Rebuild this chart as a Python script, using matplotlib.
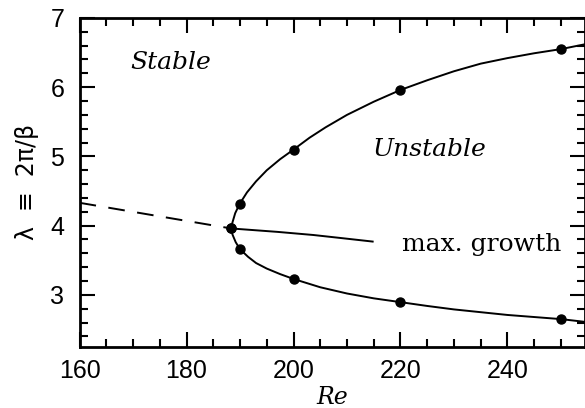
import matplotlib
matplotlib.use("Agg")
import matplotlib.pyplot as plt
from matplotlib.ticker import MultipleLocator

# points
re_pts = [188.3, 190, 200, 220, 250]
lam_upper_pts = [3.96, 4.31, 5.09, 5.96, 6.55]
lam_lower_pts = [3.96, 3.66, 3.23, 2.895, 2.65]

# the drawn neutral curve, read at many spots along it
re_upper = [188.3, 188.6, 189.1, 189.9, 191.3, 193, 195, 197.5, 199.85, 203, 206,
            210, 215, 220, 225, 230, 235, 240, 245, 250, 254.5]
lam_upper = [3.96, 4.05, 4.18, 4.31, 4.48, 4.64, 4.80, 4.96, 5.09, 5.27, 5.42,
             5.60, 5.79, 5.96, 6.10, 6.23, 6.34, 6.42, 6.49, 6.55, 6.62]
re_lower = [188.3, 188.6, 189.2, 190, 191.5, 193, 195, 197.5, 200, 205, 210,
            215, 220, 225, 230, 235, 240, 245, 250, 254.5]
lam_lower = [3.96, 3.87, 3.76, 3.66, 3.55, 3.46, 3.38, 3.30, 3.23, 3.11, 3.02,
             2.95, 2.895, 2.84, 2.79, 2.75, 2.71, 2.68, 2.65, 2.61]

# max. growth line, solid part and dashed extension
re_max = [188.3, 190, 197, 203.7, 209, 214.8]
lam_max = [3.96, 3.95, 3.91, 3.865, 3.82, 3.77]
re_dash = [160, 188.3]
lam_dash = [4.33, 3.96]

plt.rcParams['lines.scale_dashes'] = False

fig = plt.figure(figsize=(5.85, 4.08), dpi=100)
ax = fig.add_axes([0.136, 0.150, 0.864, 0.806])

ax.plot(re_upper, lam_upper, color='black', lw=1.4)
ax.plot(re_lower, lam_lower, color='black', lw=1.4)
ax.plot(re_max, lam_max, color='black', lw=1.4)
ax.plot(re_dash, lam_dash, color='black', lw=1.4, dashes=(12, 9))
ax.plot(re_pts, lam_upper_pts, 'o', color='black', ms=6.5)
ax.plot(re_pts, lam_lower_pts, 'o', color='black', ms=6.5)

ax.set_xlim(160, 254.5)
ax.set_ylim(2.25, 7)
ax.xaxis.set_major_locator(MultipleLocator(20))
ax.xaxis.set_minor_locator(MultipleLocator(5))
ax.yaxis.set_major_locator(MultipleLocator(1))
ax.yaxis.set_minor_locator(MultipleLocator(0.2))
ax.tick_params(which='both', direction='in', top=True, right=True, width=1.5)
ax.tick_params(which='major', length=11, labelsize=18)
ax.tick_params(which='minor', length=6)
ax.tick_params(axis='x', pad=9)
ax.tick_params(axis='y', pad=11)
for lab in ax.get_xticklabels() + ax.get_yticklabels():
    lab.set_family('Liberation Sans')
for s in ax.spines.values():
    s.set_linewidth(2)

ax.set_xlabel('Re', fontsize=17, family='DejaVu Serif', style='italic', labelpad=2)
ax.set_ylabel('λ  ≡  2π/β', fontsize=17, family='DejaVu Sans', labelpad=8)

ax.text(169.4, 6.35, 'Stable', fontsize=18, family='DejaVu Serif', style='italic', va='center')
ax.text(214.7, 5.10, 'Unstable', fontsize=18, family='DejaVu Serif', style='italic', va='center')
ax.text(220.2, 3.64, 'max. growth', fontsize=18, family='DejaVu Serif', va='baseline')

fig.savefig('out.png', dpi=100)
